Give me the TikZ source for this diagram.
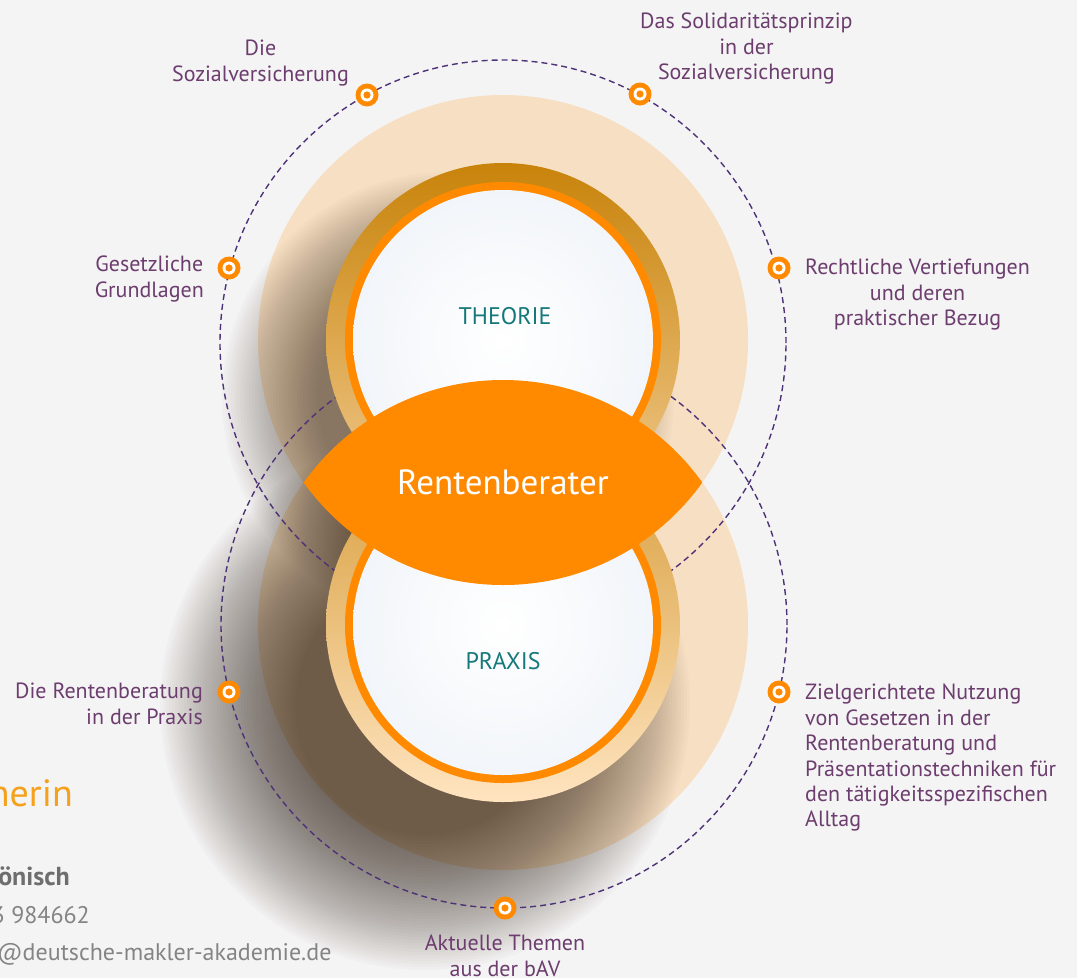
\documentclass[tikz,border=0pt]{standalone}
\usepackage{fontspec}
\setmainfont{PT Sans}
\usetikzlibrary{positioning}

\definecolor{bg}{HTML}{F4F4F4}
\definecolor{halo}{HTML}{F7DFC3}
\definecolor{ringdark}{HTML}{C8830A}
\definecolor{ringlight}{HTML}{F2CC92}
\definecolor{ringdarkb}{HTML}{D79D3A}
\definecolor{ringlightb}{HTML}{FFE4C0}
\definecolor{dmaorange}{HTML}{FF8A00}
\definecolor{discedge}{HTML}{DCE5F0}
\definecolor{plum}{HTML}{6C3D6E}
\definecolor{headteal}{HTML}{15787A}
\definecolor{dashpurple}{HTML}{4E3278}
\definecolor{nameorange}{HTML}{F5A11C}
\definecolor{greytext}{HTML}{6E6E6E}
\definecolor{shadowtone}{HTML}{2A1C10}

\pgfdeclareradialshading{discglow}{\pgfpoint{0bp}{0bp}}{%
  color(0bp)=(white); color(30bp)=(white!55!discedge); color(50bp)=(discedge)}

% soft drop shadow below a disc: #1 centre, #2 outer radius
\newcommand\discshadow[2]{%
  \foreach \r in {130,133,...,#2}
    \fill[shadowtone, opacity=0.018] #1 circle[radius=\r pt];}

\begin{document}
\begin{tikzpicture}[
  x=1pt, y=-1pt,
  marker/.style={circle, fill=dmaorange, minimum size=23pt, inner sep=0pt,
    path picture={
      \fill[white] (path picture bounding box.center) circle[radius=6.5pt];
      \fill[dmaorange] (path picture bounding box.center) circle[radius=3.6pt];}},
  topic/.style={text=plum, inner sep=0pt, align=center,
    font=\fontsize{22}{25.4}\selectfont},
  heading/.style={text=headteal, inner sep=0pt, font=\fontsize{24}{28}\selectfont},
  orbit/.style={dashpurple, line width=1.4pt, dash pattern=on 6pt off 4pt}
]
\useasboundingbox (0,0) rectangle (1077,978);
\clip (0,0) rectangle (1077,978);
\fill[bg] (0,0) rectangle (1077,978);

% page text cut off on the left
\node[anchor=base east, inner sep=0pt, text=nameorange, font=\fontsize{38}{40}\selectfont] (role) at (73,806) {nerin};
\node[anchor=base east, inner sep=0pt, text=greytext, font=\fontsize{26}{30}\selectfont\bfseries] (name) at (70,885) {önisch};
\node[anchor=base east, inner sep=0pt, text=greytext!85, font=\fontsize{24}{28}\selectfont] (phone) at (90,923) {3 984662};
\node[anchor=base west, inner sep=0pt, text=greytext!85, font=\fontsize{24}{28}\selectfont] (mail) at (-3,960) {@deutsche-makler-akademie.de};

\coordinate (ctop) at (503,340);
\coordinate (cbot) at (503,625);

% light halos
\fill[halo] (ctop) circle[radius=245pt];
\fill[halo] (cbot) circle[radius=245pt];

% shadows
\discshadow{(448,398)}{228}
\discshadow{(425,705)}{265}

% dashed orbits
\draw[orbit] (503,343) circle[radius=283pt];
\draw[orbit] (504,625) circle[radius=283pt];

% markers on the orbits
\node[marker] (m1) at (367,95) {};
\node[marker] (m2) at (640,94) {};
\node[marker] (m3) at (229,268) {};
\node[marker] (m4) at (779,268) {};
\node[marker] (m5) at (229,692) {};
\node[marker] (m6) at (779,692) {};
\node[marker] (m7) at (505,908) {};

% the two discs
\shade[top color=ringdark, bottom color=ringlight] (ctop) circle[radius=177pt];
\fill[dmaorange] (ctop) circle[radius=158pt];
\shade[shading=discglow] (ctop) circle[radius=150pt];

\shade[top color=ringdarkb, bottom color=ringlightb] (cbot) circle[radius=177pt];
\fill[dmaorange] (cbot) circle[radius=158pt];
\shade[shading=discglow] (cbot) circle[radius=150pt];

% lens where the halos overlap
\begin{scope}
  \clip (ctop) circle[radius=245pt];
  \fill[dmaorange] (cbot) circle[radius=245pt];
\end{scope}

\node[heading] (theorie) at (505,316) {THEORIE};
\node[heading] (praxis) at (503,661) {PRAXIS};
\node[text=white, inner sep=0pt, font=\fontsize{35}{40}\selectfont] (berater) at (503,482) {Rentenberater};

% topics
\node[topic, above left=9pt and 18pt of m1.center] (t1) {Die\\Sozialversicherung};
\node[topic, above right=9.5pt and 0pt of m2.center] (t2) {Das Solidaritätsprinzip\\in der\\Sozialversicherung};
\node[topic, below left=-12pt and 25pt of m3.center] (t3) {Gesetzliche\\Grundlagen};
\node[topic, below right=-9pt and 26pt of m4.center] (t4) {Rechtliche Vertiefungen\\und deren\\praktischer Bezug};
\node[topic, align=right, below left=-9pt and 26pt of m5.center] (t5) {Die Rentenberatung\\in der Praxis};
\node[topic, align=left, below right=-8pt and 26pt of m6.center] (t6) {Zielgerichtete Nutzung\\von Gesetzen in der\\Rentenberatung und\\Präsentationstechniken für\\den tätigkeitsspezifischen\\Alltag};
\node[topic, below=27pt of m7.center] (t7) {Aktuelle Themen\\aus der bAV};
\end{tikzpicture}
\end{document}
